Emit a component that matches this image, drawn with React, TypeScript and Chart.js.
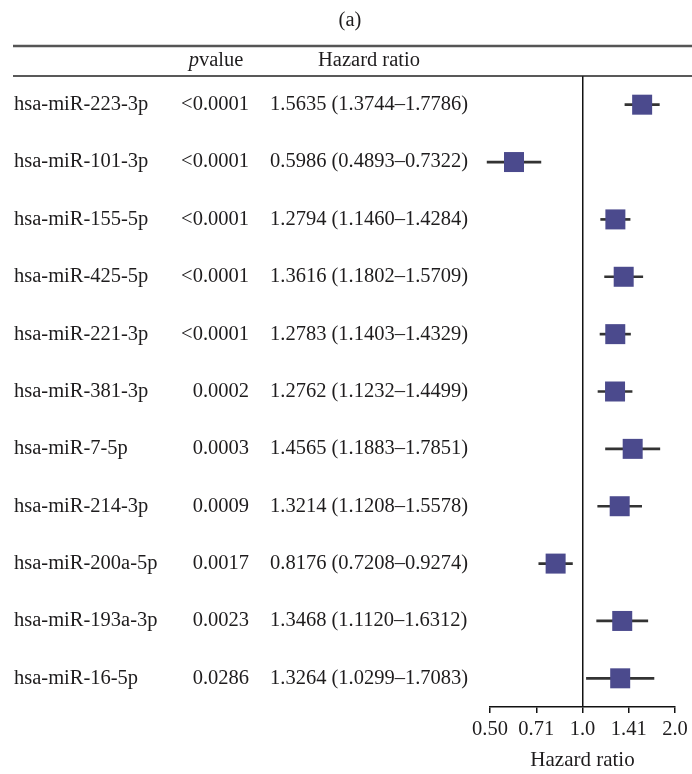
import React, { useEffect, useRef } from "react";
import { Chart, registerables } from "chart.js";

Chart.register(...registerables);

const genes = [
  "hsa-miR-223-3p",
  "hsa-miR-101-3p",
  "hsa-miR-155-5p",
  "hsa-miR-425-5p",
  "hsa-miR-221-3p",
  "hsa-miR-381-3p",
  "hsa-miR-7-5p",
  "hsa-miR-214-3p",
  "hsa-miR-200a-5p",
  "hsa-miR-193a-3p",
  "hsa-miR-16-5p",
];
const pValues = [
  "<0.0001",
  "<0.0001",
  "<0.0001",
  "<0.0001",
  "<0.0001",
  "0.0002",
  "0.0003",
  "0.0009",
  "0.0017",
  "0.0023",
  "0.0286",
];
const hazardRatio = [1.5635, 0.5986, 1.2794, 1.3616, 1.2783, 1.2762, 1.4565, 1.3214, 0.8176, 1.3468, 1.3264];
const ciLow = [1.3744, 0.4893, 1.146, 1.1802, 1.1403, 1.1232, 1.1883, 1.1208, 0.7208, 1.112, 1.0299];
const ciHigh = [1.7786, 0.7322, 1.4284, 1.5709, 1.4329, 1.4499, 1.7851, 1.5578, 0.9274, 1.6312, 1.7083];
const tickValues = [0.5, Math.SQRT1_2, 1, Math.SQRT2, 2];
const tickLabels = ["0.50", "0.71", "1.0", "1.41", "2.0"];

const FONT = "'Liberation Serif', 'DejaVu Serif', serif";
const TXT = "#1e1c1d";
const FS = 20.5;

const tablePlugin = {
  id: "forestTable",
  afterDraw(chart: any) {
    const ctx = chart.ctx;
    const yScale = chart.scales.y;
    const area = chart.chartArea;
    ctx.save();
    ctx.fillStyle = TXT;
    ctx.font = `${FS}px ${FONT}`;
    ctx.textBaseline = "middle";
    // title
    ctx.textAlign = "center";
    ctx.fillText("(a)", 350, 21);
    // header rules
    ctx.strokeStyle = "#555";
    ctx.lineWidth = 2.5;
    ctx.beginPath();
    ctx.moveTo(13, 46);
    ctx.lineTo(692, 46);
    ctx.stroke();
    ctx.strokeStyle = "#222";
    ctx.lineWidth = 1.5;
    ctx.beginPath();
    ctx.moveTo(13, area.top);
    ctx.lineTo(692, area.top);
    ctx.stroke();
    // headers
    ctx.font = `italic ${FS}px ${FONT}`;
    const pW = ctx.measureText("p").width;
    ctx.font = `${FS}px ${FONT}`;
    const vW = ctx.measureText("value").width;
    const hStart = 216 - (pW + vW) / 2;
    ctx.textAlign = "left";
    ctx.font = `italic ${FS}px ${FONT}`;
    ctx.fillText("p", hStart, 61);
    ctx.font = `${FS}px ${FONT}`;
    ctx.fillText("value", hStart + pW, 61);
    ctx.textAlign = "center";
    ctx.fillText("Hazard ratio", 369, 61);
    // rows
    genes.forEach((g, i) => {
      const y = yScale.getPixelForValue(i);
      ctx.textAlign = "left";
      ctx.fillText(g, 14, y);
      ctx.textAlign = "right";
      ctx.fillText(pValues[i], 249, y);
      ctx.textAlign = "left";
      ctx.fillText(
        `${hazardRatio[i].toFixed(4)} (${ciLow[i].toFixed(4)}\u2013${ciHigh[i].toFixed(4)})`,
        270,
        y
      );
    });
    ctx.restore();
  },
};

export default function App() {
  const canvasRef = useRef<HTMLCanvasElement>(null);

  useEffect(() => {
    if (!canvasRef.current) return;
    const chart = new Chart(canvasRef.current, {
      type: "bar",
      data: {
        labels: genes,
        datasets: [
          {
            type: "scatter",
            data: genes.map((g, i) => ({ x: hazardRatio[i], y: g })),
            backgroundColor: "#4B4A8D",
            borderWidth: 0,
            pointStyle: "rect",
            pointRadius: 14.14,
            pointHoverRadius: 14.14,
            order: 0,
            clip: false,
          } as any,
          {
            type: "bar",
            data: genes.map((g, i) => [ciLow[i], ciHigh[i]]),
            backgroundColor: "#333333",
            borderWidth: 0,
            barThickness: 2,
            order: 1,
            clip: false,
          } as any,
        ],
      },
      options: {
        indexAxis: "y",
        animation: false,
        responsive: false,
        events: [],
        layout: { padding: { left: 490, right: 17, top: 76, bottom: 0 } },
        plugins: { legend: { display: false }, tooltip: { enabled: false } },
        scales: {
          x: {
            type: "logarithmic",
            min: 0.5,
            max: 2,
            afterBuildTicks: (scale: any) => {
              scale.ticks = tickValues.map((v) => ({ value: v }));
            },
            afterFit: (scale: any) => {
              scale.height = 67;
            },
            ticks: {
              autoSkip: false,
              maxRotation: 0,
              padding: 4,
              color: TXT,
              font: { family: FONT, size: 20.5 },
              callback: (_v: any, i: number) => tickLabels[i],
            },
            grid: {
              drawOnChartArea: true,
              color: (c: any) => (c.tick && Math.abs(c.tick.value - 1) < 1e-9 ? "#111" : "rgba(0,0,0,0)"),
              lineWidth: 1.5,
              tickColor: "#111",
              tickLength: 6,
              tickWidth: 1.5,
            },
            border: { display: true, color: "#111", width: 1.5 },
            title: {
              display: true,
              text: "Hazard ratio",
              color: TXT,
              font: { family: FONT, size: 21 },
              padding: { top: 0, bottom: 1 },
            },
          },
          y: {
            type: "category",
            display: false,
            offset: true,
            grid: { display: false },
          },
        },
      },
      plugins: [tablePlugin],
    } as any);
    return () => chart.destroy();
  }, []);

  return (
    <div style={{ position: "fixed", left: 0, top: 0, width: 692, height: 774, background: "#fff" }}>
      <canvas ref={canvasRef} width={692} height={774} style={{ width: 692, height: 774, display: "block" }} />
    </div>
  );
}
